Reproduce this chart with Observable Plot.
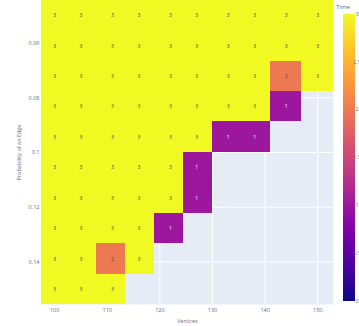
<!DOCTYPE html>
<html>
<head>
<meta charset="utf-8">
<script src="https://cdn.jsdelivr.net/npm/d3@7"></script>
<script src="https://cdn.jsdelivr.net/npm/@observablehq/plot@0.6"></script>
<style>
  body { margin: 0; background: #fff; }
  svg { display: block; }
</style>
</head>
<body>
<div id="chart"></div>
<script>
// Graph sizes tested (columns) and edge probabilities (rows)
const vertices = [100, 105, 111, 116, 122, 127, 133, 138, 144, 150];
const edgeProbs = [0.05, 0.0611, 0.0722, 0.0833, 0.0944, 0.1056, 0.1167, 0.1278, 0.1389, 0.15];

// Time per row (edge probability) and column (vertex count); null = no result
const times = [
  [3, 3, 3, 3, 3, 3, 3, 3, 3, 3],
  [3, 3, 3, 3, 3, 3, 3, 3, 3, 3],
  [3, 3, 3, 3, 3, 3, 3, 3, 2, 3],
  [3, 3, 3, 3, 3, 3, 3, 3, 1, null],
  [3, 3, 3, 3, 3, 3, 1, 1, null, null],
  [3, 3, 3, 3, 3, 1, null, null, null, null],
  [3, 3, 3, 3, 3, 1, null, null, null, null],
  [3, 3, 3, 3, 1, null, null, null, null, null],
  [3, 3, 2, 3, null, null, null, null, null, null],
  [3, 3, 3, null, null, null, null, null, null, null]
];

const xTicks = [100, 110, 120, 130, 140, 150];
const yTicks = [0.06, 0.08, 0.1, 0.12, 0.14];
const colorTicks = [3, 2.5, 2, 1.5, 1, 0.5, 0];

// Cell boundaries sit halfway between neighbouring centres
function edges(c) {
  const n = c.length;
  const e = [c[0] - (c[1] - c[0]) / 2];
  for (let i = 0; i < n - 1; i++) e.push((c[i] + c[i + 1]) / 2);
  e.push(c[n - 1] + (c[n - 1] - c[n - 2]) / 2);
  return e;
}
const xe = edges(vertices);
const ye = edges(edgeProbs);

const cells = [];
times.forEach((row, i) => row.forEach((t, j) => {
  if (t == null) return;
  cells.push({x1: xe[j], x2: xe[j + 1], y1: ye[i], y2: ye[i + 1], x: vertices[j], y: edgeProbs[i], t});
}));

const tickColor = "#5b6b86";
const chart = Plot.plot({
  width: 359,
  height: 326,
  marginLeft: 41,
  marginRight: 26,
  marginTop: 0,
  marginBottom: 22,
  style: {fontFamily: "'Open Sans', sans-serif", fontSize: "5.5px", color: tickColor, background: "white", overflow: "visible"},
  x: {domain: [xe[0], xe[xe.length - 1]], ticks: xTicks, tickSize: 0, tickPadding: 4,
      label: "Vertices", labelAnchor: "center", labelOffset: 18, labelArrow: "none"},
  y: {domain: [ye[0], ye[ye.length - 1]], reverse: true, ticks: yTicks, tickFormat: d => String(d),
      tickSize: 0, tickPadding: 2, label: "Probability of an Edge", labelAnchor: "center", labelOffset: 24, labelArrow: "none"},
  color: {type: "linear", scheme: "plasma", domain: [0, 3]},
  marks: [
    Plot.frame({fill: "#e5ecf6", stroke: null}),
    Plot.gridX(xTicks, {stroke: "white", strokeOpacity: 1}),
    Plot.gridY(yTicks, {stroke: "white", strokeOpacity: 1}),
    Plot.rect(cells, {x1: "x1", x2: "x2", y1: "y1", y2: "y2", fill: "t", shapeRendering: "crispEdges"}),
    Plot.text(cells.filter(d => d.t >= 1.5), {x: "x", y: "y", text: d => String(d.t), fill: "#444", fontSize: 5}),
    Plot.text(cells.filter(d => d.t < 1.5), {x: "x", y: "y", text: d => String(d.t), fill: "white", fontSize: 5})
  ]
});
document.getElementById("chart").appendChild(chart);

// Vertical colour bar for Time
const color = chart.scale("color");
const svg = d3.select(chart);
const barX = 343, barW = 12, barTop = 14, barBottom = 301;
const cb = d3.scaleLinear().domain([0, 3]).range([barBottom, barTop]);
const grad = svg.append("defs").append("linearGradient")
  .attr("id", "time-ramp").attr("x1", 0).attr("y1", 1).attr("x2", 0).attr("y2", 0);
d3.range(0, 1.0001, 0.05).forEach(f => {
  grad.append("stop").attr("offset", f).attr("stop-color", color.apply(f * 3));
});
svg.append("rect").attr("x", barX).attr("y", barTop).attr("width", barW)
  .attr("height", barBottom - barTop).attr("fill", "url(#time-ramp)");
svg.append("g").selectAll("text").data(colorTicks).join("text")
  .attr("x", barX + barW + 2).attr("y", d => cb(d)).attr("dy", "0.32em")
  .attr("fill", tickColor).attr("font-size", 5.5).text(d => String(d));
svg.append("text").attr("x", barX).attr("y", 9).attr("fill", tickColor)
  .attr("font-size", 6).text("Time");
</script>
</body>
</html>
